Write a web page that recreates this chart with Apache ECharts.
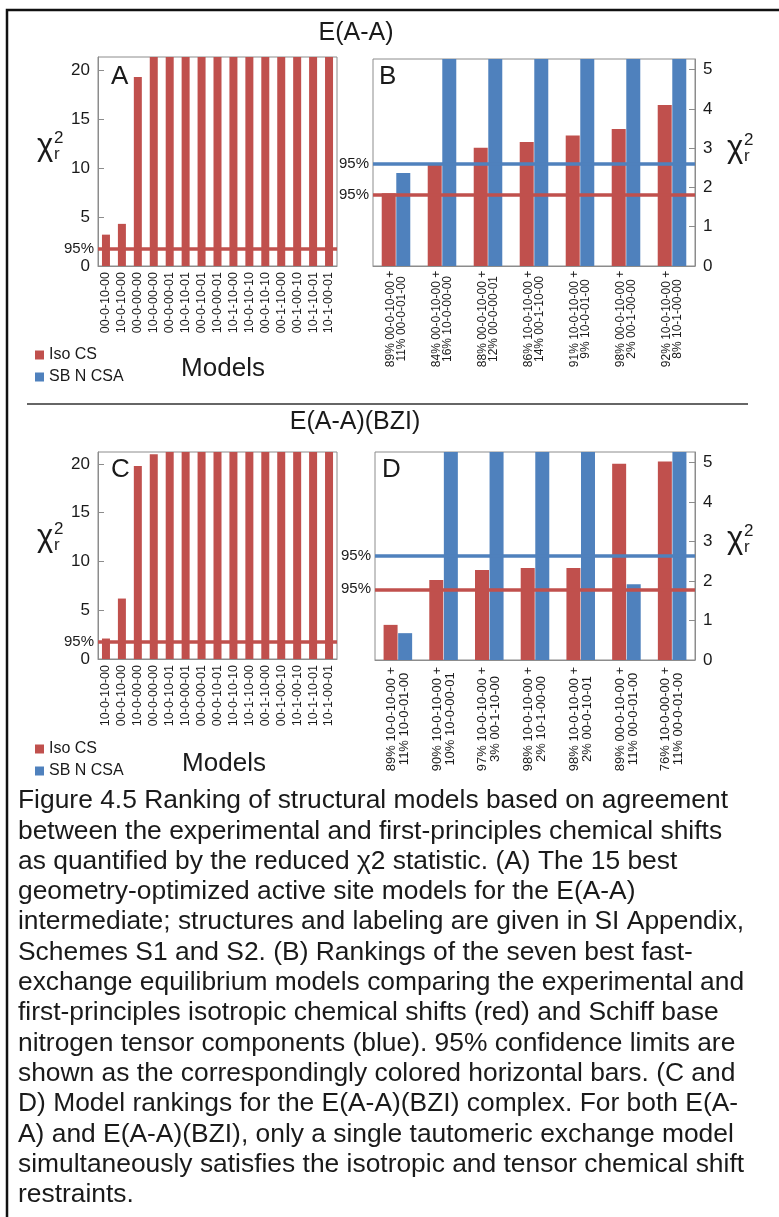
<!DOCTYPE html>
<html>
<head>
<meta charset="utf-8">
<script src="https://cdn.jsdelivr.net/npm/echarts@6/dist/echarts.min.js"></script>
<style>
  html, body { margin: 0; padding: 0; background: #fff; }
  #chart { width: 779px; height: 1217px; }
</style>
</head>
<body>
<div id="chart"></div>
<script>
// ---- Data ----------------------------------------------------------------
// Panel A: E(A-A), single-structure models (reduced chi-square, iso CS)
const modelsA = ['00-0-10-00', '10-0-10-00', '00-0-00-00', '10-0-00-00', '00-0-00-01',
  '10-0-10-01', '00-0-10-01', '10-0-00-01', '10-1-10-00', '10-0-10-10',
  '00-0-10-10', '00-1-10-00', '00-1-00-10', '10-1-10-01', '10-1-00-01'];
// bars that run past the top of the axis are off scale (given as 25)
const isoA = [3.2, 4.3, 19.3, 25, 25, 25, 25, 25, 25, 25, 25, 25, 25, 25, 25];
const limitIsoA = 1.8;

// Panel B: E(A-A), fast-exchange equilibrium models
const modelsB = ['89% 00-0-10-00 +\n11% 00-0-01-00', '84% 00-0-10-00 +\n16% 10-0-00-00',
  '88% 00-0-10-00 +\n12% 00-0-00-01', '86% 10-0-10-00 +\n14% 00-1-10-00',
  '91% 10-0-10-00 +\n9% 10-0-01-00', '98% 00-0-10-00 +\n2% 00-1-00-00',
  '92% 10-0-10-00 +\n8% 10-1-00-00'];
const isoB = [1.85, 2.57, 3.01, 3.16, 3.32, 3.49, 4.10];
const csaB = [2.37, 6, 6, 6, 6, 6, 6];      // 6 = off scale
const limitIsoB = 1.82;
const limitCsaB = 2.61;

// Panel C: E(A-A)(BZI), single-structure models
const modelsC = ['10-0-10-00', '00-0-10-00', '10-0-00-00', '00-0-00-00', '10-0-10-01',
  '10-0-00-01', '00-0-00-01', '00-0-10-01', '10-0-10-10', '10-1-10-00',
  '00-1-10-00', '00-1-00-10', '10-1-00-10', '10-1-10-01', '10-1-00-01'];
const isoC = [2.1, 6.2, 19.8, 21.0, 25, 25, 25, 25, 25, 25, 25, 25, 25, 25, 25];
const limitIsoC = 1.75;

// Panel D: E(A-A)(BZI), fast-exchange equilibrium models
const modelsD = ['89% 10-0-10-00 +\n11% 10-0-01-00', '90% 10-0-10-00 +\n10% 10-0-00-01',
  '97% 10-0-10-00 +\n3% 00-1-10-00', '98% 10-0-10-00 +\n2% 10-1-00-00',
  '98% 10-0-10-00 +\n2% 00-0-10-01', '89% 00-0-10-00 +\n11% 00-0-01-00',
  '76% 10-0-00-00 +\n11% 00-0-01-00'];
const isoD = [0.89, 2.03, 2.28, 2.33, 2.33, 4.97, 5.03];
const csaD = [0.68, 6, 6, 6, 6, 1.92, 6];
const limitIsoD = 1.79;
const limitCsaD = 2.65;

const legendNames = ['Iso CS', 'SB N CSA'];

const captionLines = [
  'Figure 4.5 Ranking of structural models based on agreement',
  'between the experimental and first-principles chemical shifts',
  'as quantified by the reduced \u03c72 statistic. (A) The 15 best',
  'geometry-optimized active site models for the E(A-A)',
  'intermediate; structures and labeling are given in SI Appendix,',
  'Schemes S1 and S2. (B) Rankings of the seven best fast-',
  'exchange equilibrium models comparing the experimental and',
  'first-principles isotropic chemical shifts (red) and Schiff base',
  'nitrogen tensor components (blue). 95% confidence limits are',
  'shown as the correspondingly colored horizontal bars. (C and',
  'D) Model rankings for the E(A-A)(BZI) complex. For both E(A-',
  'A) and E(A-A)(BZI), only a single tautomeric exchange model',
  'simultaneously satisfies the isotropic and tensor chemical shift',
  'restraints.'
];

// ---- Styling ---------------------------------------------------------------
const FONT = '"Liberation Sans", Arial, Helvetica, sans-serif';
const RED = '#C0504D';
const BLUE = '#4F81BD';
const INK = '#1a1a1a';
const FRAME = '#8c8c8c';

const grids = [
  { left: 98, top: 57, width: 239, height: 209 },   // A
  { left: 373, top: 59, width: 322, height: 207 },  // B
  { left: 98, top: 452, width: 239, height: 207 },  // C
  { left: 375, top: 452, width: 320, height: 208 }  // D
].map(g => Object.assign({ show: true, borderColor: FRAME, borderWidth: 1, containLabel: false }, g));

function modelAxis(gridIndex, data, labelOpts) {
  return {
    type: 'category', gridIndex, data,
    axisLine: { show: true, lineStyle: { color: FRAME, width: 1 } },
    axisTick: { show: false },
    splitLine: { show: false },
    axisLabel: Object.assign({
      interval: 0, rotate: 90, color: INK, fontFamily: FONT
    }, labelOpts)
  };
}

function chiAxis(gridIndex, max, interval, position) {
  return {
    type: 'value', gridIndex, min: 0, max, interval, position,
    axisLine: { show: true, lineStyle: { color: FRAME, width: 1 } },
    axisTick: { show: true, inside: true, length: 6, lineStyle: { color: FRAME } },
    splitLine: { show: false },
    axisLabel: {
      color: INK, fontSize: 17, fontFamily: FONT, margin: 8,
      showMaxLabel: false,
      formatter: v => (Math.abs(v / interval - Math.round(v / interval)) < 1e-6 ? String(v) : '')
    }
  };
}

function limitLine(value, color) {
  return {
    symbol: 'none', silent: true, animation: false,
    lineStyle: { color, width: 3.5, type: 'solid' },
    label: { show: true, position: 'start', formatter: '95%', color: INK, fontSize: 15, fontFamily: FONT, distance: 4 },
    emphasis: { disabled: true },
    data: [{ yAxis: value }]
  };
}

function barSeries(name, color, axisIndex, data, limit, width) {
  return {
    type: 'bar', name, xAxisIndex: axisIndex, yAxisIndex: axisIndex, data,
    barWidth: width, barGap: '4%', clip: true,
    itemStyle: { color },
    markLine: limitLine(limit, color)
  };
}

// ---- Text overlays -------------------------------------------------------
function txt(text, x, y, size, opts) {
  return {
    type: 'text', x, y, silent: true,
    style: Object.assign({ text, fill: INK, font: size + 'px ' + FONT, textAlign: 'left', textVerticalAlign: 'middle' }, opts || {})
  };
}

function chiLabel(x, y) {
  return [
    txt('\u03c7', x, y, 31),
    txt('2', x + 17, y - 8, 17),
    txt('r', x + 17, y + 8, 17)
  ];
}

const graphics = [
  // outer frame and divider
  { type: 'rect', silent: true, shape: { x: 7, y: 10, width: 800, height: 1300 },
    style: { fill: 'none', stroke: '#111', lineWidth: 2.5 } },
  { type: 'line', silent: true, shape: { x1: 27, y1: 404, x2: 748, y2: 404 },
    style: { stroke: '#333', lineWidth: 1.5 } },
  // section titles
  txt('E(A-A)', 356, 33, 25, { textAlign: 'center' }),
  txt('E(A-A)(BZI)', 355, 422, 25, { textAlign: 'center' }),
  // panel letters
  txt('A', 111, 77, 26),
  txt('B', 379, 77, 26),
  txt('C', 111, 470, 26),
  txt('D', 382, 470, 26),
  // x-axis titles
  txt('Models', 223, 369, 26, { textAlign: 'center' }),
  txt('Models', 224, 764, 26, { textAlign: 'center' }),
  ...chiLabel(37, 146),
  ...chiLabel(727, 148),
  ...chiLabel(37, 537),
  ...chiLabel(727, 539),
  ...captionLines.map((line, i) => txt(line, 18, 801 + i * 30.3, 26.4))
];

// ---- Chart -----------------------------------------------------------------
const chart = echarts.init(document.getElementById('chart'), null, { renderer: 'canvas' });
chart.setOption({
  backgroundColor: '#fff',
  animation: false,
  textStyle: { fontFamily: FONT },
  grid: grids,
  legend: [342, 736].map(top => ({
    left: 30, top, orient: 'vertical', icon: 'rect',
    itemWidth: 9, itemHeight: 9, itemGap: 6,
    data: legendNames, selectedMode: false,
    textStyle: { fontSize: 16, color: INK, fontFamily: FONT }
  })),
  xAxis: [
    modelAxis(0, modelsA, { fontSize: 12.5, margin: 6 }),
    modelAxis(1, modelsB, { fontSize: 12, lineHeight: 11, align: 'center', verticalAlign: 'middle', margin: 53 }),
    modelAxis(2, modelsC, { fontSize: 12.5, margin: 6 }),
    modelAxis(3, modelsD, { fontSize: 13, lineHeight: 13, align: 'center', verticalAlign: 'middle', margin: 59 })
  ],
  yAxis: [
    chiAxis(0, 21.33, 5, 'left'),
    chiAxis(1, 5.27, 1, 'right'),
    chiAxis(2, 21.23, 5, 'left'),
    chiAxis(3, 5.27, 1, 'right')
  ],
  series: [
    barSeries('Iso CS', RED, 0, isoA, limitIsoA, 8),
    barSeries('Iso CS', RED, 1, isoB, limitIsoB, 14),
    barSeries('SB N CSA', BLUE, 1, csaB, limitCsaB, 14),
    barSeries('Iso CS', RED, 2, isoC, limitIsoC, 8),
    barSeries('Iso CS', RED, 3, isoD, limitIsoD, 14),
    barSeries('SB N CSA', BLUE, 3, csaD, limitCsaD, 14)
  ],
  graphic: { elements: graphics }
});
</script>
</body>
</html>
